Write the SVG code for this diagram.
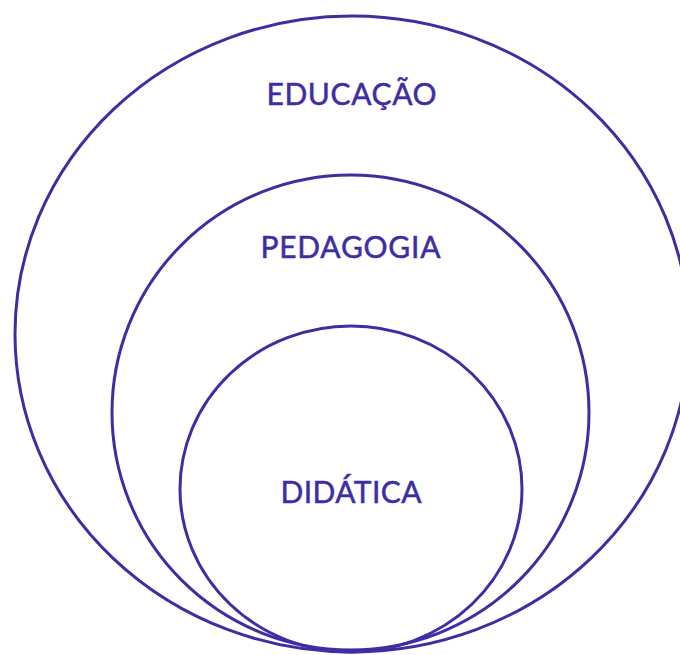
<svg xmlns="http://www.w3.org/2000/svg" width="680" height="655" viewBox="0 0 680 655">
<style>
.c{fill:none;stroke:#3d2ea3;stroke-width:3}
.t{font-family:Lato,"Noto Sans",sans-serif;font-size:30px;fill:#3d2ea3;stroke:#3d2ea3;stroke-width:0.5;text-anchor:middle}
</style>
<rect width="680" height="655" fill="#fff"/>
<g id="educacao">
<ellipse class="c" cx="352" cy="334" rx="337" ry="318"/>
<text class="t" x="351.5" y="105" textLength="170" lengthAdjust="spacing">EDUCAÇÃO</text>
</g>
<g id="pedagogia">
<ellipse class="c" cx="350.5" cy="412.5" rx="238.5" ry="237.5"/>
<text class="t" x="350.5" y="258" textLength="180" lengthAdjust="spacing">PEDAGOGIA</text>
</g>
<g id="didatica">
<ellipse class="c" cx="351" cy="489" rx="171" ry="163"/>
<text class="t" x="351" y="503" textLength="141" lengthAdjust="spacing">DIDÁTICA</text>
</g>
<g id="connectors"/>
</svg>
